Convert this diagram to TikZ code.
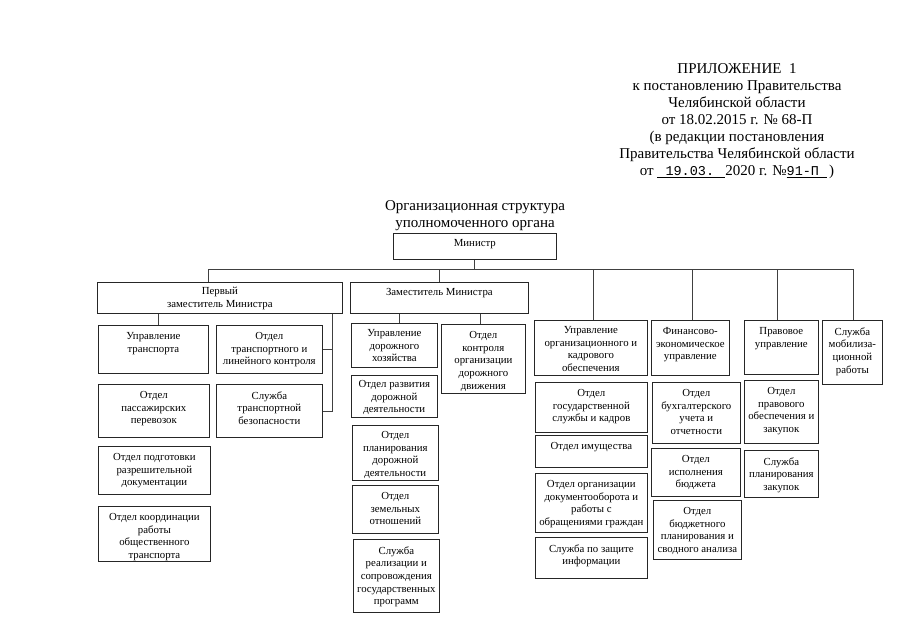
\documentclass[tikz,border=0pt]{standalone}
\usepackage{fontspec}
\setmainfont{Liberation Serif}
\newfontfamily\monof{Liberation Mono}
\newcommand{\boxfont}{\fontsize{10.8}{12.7}\selectfont}
\newcommand{\orgbox}[7][7pt]{%
  \pgfmathsetmacro{\bw}{#5-#3}\pgfmathsetmacro{\bh}{#6-#4}%
  \node[bx] (#2) at (#3,#4) {\parbox[c][\bh pt][t]{\bw pt}{\centering\boxfont\vspace*{#1}#7\par}};}
\tikzset{
  bx/.style={draw=black!85, line width=0.7pt, inner sep=0pt, anchor=north west},
  conn/.style={draw=black!75, line width=0.7pt},
  head/.style={align=center, inner sep=0pt, font=\fontsize{15}{17.1}\selectfont}
}
\begin{document}
\begin{tikzpicture}[x=1pt,y=-1pt]
\useasboundingbox (0,0) rectangle (905,640);
% header
\node[head, anchor=north] (hdr) at (737,63) {ПРИЛОЖЕНИЕ\ \ 1\\к постановлению Правительства\\Челябинской области\\от 18.02.2015 г. № 68-П\\(в редакции постановления\\Правительства Челябинской области\\от \underline{\makebox[68pt][l]{\fontsize{13.5}{15}\monof\ 19.03.}}2020 г. №\underline{\makebox[40pt][l]{\fontsize{13.5}{15}\monof 91-П}}\,)};
\node[head, anchor=north] (ttl) at (475,200) {Организационная структура\\уполномоченного органа};
% boxes
\orgbox[6pt]{m}{393}{233}{556}{259}{Министр}
\orgbox[5pt]{p1}{97}{282}{342}{313}{Первый\\заместитель Министра}
\orgbox[6pt]{z}{350}{282}{528}{313}{Заместитель Министра}
\orgbox{ut}{98}{325}{208}{373}{Управление\\транспорта}
\orgbox{ot}{216}{325}{322}{373}{Отдел\\транспортного и\\линейного контроля}
\orgbox{op}{98}{384}{209}{437}{Отдел\\пассажирских\\перевозок}
\orgbox{st}{216}{384}{322}{437}{Служба\\транспортной\\безопасности}
\orgbox{opd}{98}{446}{210}{494}{Отдел подготовки\\разрешительной\\документации}
\orgbox{ok}{98}{506}{210}{561}{Отдел координации\\работы\\общественного\\транспорта}
\orgbox[6pt]{ud}{351}{323}{437}{367}{Управление\\дорожного\\хозяйства}
\orgbox{okd}{441}{324}{525}{393}{Отдел\\контроля\\организации\\дорожного\\движения}
\orgbox[5pt]{ord}{351}{375}{437}{417}{Отдел развития\\дорожной\\деятельности}
\orgbox[6pt]{opl}{352}{425}{438}{480}{Отдел\\планирования\\дорожной\\деятельности}
\orgbox{oz}{352}{485}{438}{533}{Отдел\\земельных\\отношений}
\orgbox{sr}{353}{539}{439}{612}{Служба\\реализации и\\сопровождения\\государственных\\программ}
\orgbox[6pt]{uo}{534}{320}{647}{375}{Управление\\организационного и\\кадрового\\обеспечения}
\orgbox{fe}{651}{320}{729}{375}{Финансово-\\экономическое\\управление}
\orgbox{pu}{744}{320}{818}{374}{Правовое\\управление}
\orgbox{sm}{822}{320}{882}{384}{Служба\\мобилиза-\\ционной\\работы}
\orgbox{og}{535}{382}{647}{432}{Отдел\\государственной\\службы и кадров}
\orgbox{oi}{535}{435}{647}{467}{Отдел имущества}
\orgbox{oo}{535}{473}{647}{532}{Отдел организации\\документооборота и\\работы с\\обращениями граждан}
\orgbox{sz}{535}{537}{647}{578}{Служба по защите\\информации}
\orgbox{ob}{652}{382}{740}{443}{Отдел\\бухгалтерского\\учета и\\отчетности}
\orgbox{oib}{651}{448}{740}{496}{Отдел\\исполнения\\бюджета}
\orgbox{obp}{653}{500}{741}{559}{Отдел\\бюджетного\\планирования и\\сводного анализа}
\orgbox{opo}{744}{380}{818}{443}{Отдел\\правового\\обеспечения и\\закупок}
\orgbox{spz}{744}{450}{818}{497}{Служба\\планирования\\закупок}
% connectors
\coordinate (hlL) at (208,269);
\coordinate (hlR) at (853,269);
\coordinate (j0) at (474,269);
\coordinate (j1) at (439,269);
\coordinate (j2) at (593,269);
\coordinate (j3) at (692,269);
\coordinate (j4) at (777,269);
\draw[conn] (m.south -| j0) -- (j0);
\draw[conn] (hlL) -- (hlR);
\draw[conn] (hlL) -- (p1.north -| hlL);
\draw[conn] (j1) -- (z.north -| j1);
\draw[conn] (j2) -- (uo.north -| j2);
\draw[conn] (j3) -- (fe.north -| j3);
\draw[conn] (j4) -- (pu.north -| j4);
\draw[conn] (hlR) -- (sm.north -| hlR);
\coordinate (k1) at (158,313);
\coordinate (k2) at (332,313);
\draw[conn] (p1.south -| k1) -- (ut.north -| k1);
\draw[conn] (p1.south -| k2) -- (st.east -| k2) -- (st.east);
\draw[conn] (ot.east) -- (ot.east -| k2);
\coordinate (k3) at (399,313);
\coordinate (k4) at (480,313);
\draw[conn] (z.south -| k3) -- (ud.north -| k3);
\draw[conn] (z.south -| k4) -- (okd.north -| k4);
\end{tikzpicture}
\end{document}
